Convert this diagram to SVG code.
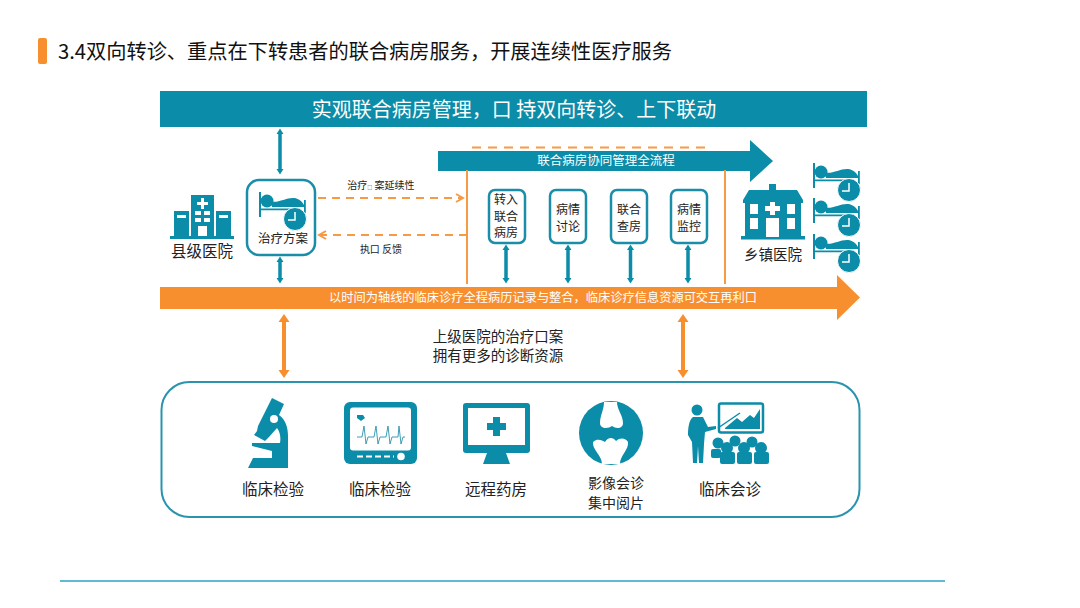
<svg xmlns="http://www.w3.org/2000/svg" width="1080" height="608" viewBox="0 0 1080 608">
<style>
text{font-family:"Noto Sans CJK SC","Noto Sans",sans-serif;fill:#222;text-anchor:middle}
.w{fill:#fff}
.t{fill:#0b8ca8}
.wf{fill:#fff}
.box{fill:#fff;stroke:#1a8ea9;stroke-width:2.5}
.dash{fill:none;stroke:#f79a45;stroke-width:2;stroke-dasharray:8 6}
.ol{fill:none;stroke:#f79a45;stroke-width:2}
.tl{fill:none;stroke:#0b8ca8;stroke-width:3.5}
.orl{fill:none;stroke:#f88f2f;stroke-width:4}
</style>
<defs>
<marker id="ah" markerWidth="6" markerHeight="8" refX="1" refY="4" orient="auto-start-reverse" markerUnits="userSpaceOnUse"><path d="M0,0.500L5.500,4L0,7.500Z" fill="#0b8ca8"/></marker>
<marker id="ao" markerWidth="9" markerHeight="12" refX="1" refY="6" orient="auto-start-reverse" markerUnits="userSpaceOnUse"><path d="M0,0.500L8,6L0,11.500Z" fill="#f88f2f"/></marker>
<marker id="oc" markerWidth="10" markerHeight="10" refX="8" refY="5" orient="auto-start-reverse" markerUnits="userSpaceOnUse"><path d="M1,1L8,5L1,9" fill="none" stroke="#f79a45" stroke-width="2"/></marker>
<g id="bed">
<path class="t" d="M0,0h2v25H0ZM45,8h1.800v13H45ZM0,16.500h31v1.800H0Z"/>
<circle class="t" cx="8" cy="9" r="6.500"/>
<path class="t" d="M12,9.500C20,11 27,5.500 35,6C40,6.500 44,10 46,15L13,15Z"/>
<circle class="t" cx="36" cy="27" r="11.500" stroke="#fff" stroke-width="1"/>
<path d="M36,20V28H29" fill="none" stroke="#fff" stroke-width="1.500"/>
</g>
</defs>
<rect width="1080" height="608" fill="#fff"/>

<g id="title">
<rect x="38" y="38" width="9" height="26" rx="2" fill="#f88f2f"/>
<text x="58" y="59" style="text-anchor:start;font-size:20px;fill:#111" textLength="614" lengthAdjust="spacingAndGlyphs">3.4双向转诊、重点在下转患者的联合病房服务，开展连续性医疗服务</text>
</g>

<g id="banner">
<rect x="160" y="91" width="707" height="36" class="t"/>
<text x="514" y="117" class="w" style="font-size:20px">实观联合病房管理，口 持双向转诊、上下联动</text>
</g>

<g id="flow-arrow">
<path class="t" d="M438,151H750V140L773,161L750,182V171H438Z"/>
<path d="M472,147.500H707" fill="none" stroke="#f79a45" stroke-width="2" stroke-dasharray="9 7"/>
<text x="606" y="165" class="w" style="font-size:12.500px">联合病房协同管理全流程</text>
</g>

<g id="timeline-arrow">
<path d="M160,287H837V275L860,297.500L837,320V309H160Z" fill="#f88f2f"/>
<text x="543" y="302" class="w" style="font-size:12.200px" textLength="428" lengthAdjust="spacingAndGlyphs">以时间为轴线的临床诊疗全程病历记录与整合，临床诊疗信息资源可交互再利口</text>
</g>

<g id="connectors">
<path d="M467,170V284M725,170V284" class="ol"/>
<path d="M280,133V170" class="tl" marker-start="url(#ah)" marker-end="url(#ah)"/>
<path d="M280,261V279" class="tl" marker-start="url(#ah)" marker-end="url(#ah)"/>
<path d="M506,249V279" class="tl" marker-start="url(#ah)" marker-end="url(#ah)"/>
<path d="M568,249V279" class="tl" marker-start="url(#ah)" marker-end="url(#ah)"/>
<path d="M630.500,249V279" class="tl" marker-start="url(#ah)" marker-end="url(#ah)"/>
<path d="M688,249V279" class="tl" marker-start="url(#ah)" marker-end="url(#ah)"/>
<path d="M318,198H463" class="dash" marker-end="url(#oc)"/>
<path d="M467,235H319" class="dash" marker-end="url(#oc)"/>
<path d="M284,321V371" class="orl" marker-start="url(#ao)" marker-end="url(#ao)"/>
<path d="M683,321V371" class="orl" marker-start="url(#ao)" marker-end="url(#ao)"/>
<text x="381" y="189" style="font-size:10px">治疗<tspan style="font-size:5px">□</tspan> 案延续性</text>
<text x="381" y="253" style="font-size:10px">执口 反馈</text>
</g>

<g id="county-hospital">
<path class="t" d="M191,195H214V237H207V226H198V237H191ZM174,211H189V237H174ZM216,211H231V237H216Z"/>
<rect x="170" y="236" width="64" height="3" class="t"/>
<path class="wf" d="M201,198h3v4h4v3h-4v4h-3v-4h-4v-3h4ZM177,215h9v3h-9ZM219,215h9v3h-9ZM195,211h6v4h-6ZM204,211h6v4h-6ZM195,218h6v4h-6ZM204,218h6v4h-6Z"/>
<text x="202" y="257" style="font-size:15.500px">县级医院</text>
</g>

<g id="plan">
<rect x="247" y="180" width="68" height="75" rx="12" class="box"/>
<use href="#bed" x="259" y="192"/>
<text x="283" y="243" style="font-size:12.500px">治疗方案</text>
</g>

<g id="step1"><rect x="489" y="190" width="36" height="53" rx="6" class="box"/><text x="506" y="204" style="font-size:12px">转入</text><text x="506" y="221" style="font-size:12px">联合</text><text x="506" y="237" style="font-size:12px">病房</text></g>
<g id="step2"><rect x="550" y="190" width="36" height="53" rx="6" class="box"/><text x="568" y="214" style="font-size:12px">病情</text><text x="568" y="231" style="font-size:12px">讨论</text></g>
<g id="step3"><rect x="611" y="190" width="36" height="53" rx="6" class="box"/><text x="629" y="214" style="font-size:12px">联合</text><text x="629" y="231" style="font-size:12px">查房</text></g>
<g id="step4"><rect x="671" y="190" width="36" height="53" rx="6" class="box"/><text x="689" y="214" style="font-size:12px">病情</text><text x="689" y="231" style="font-size:12px">监控</text></g>

<g id="township-hospital">
<path class="t" d="M769,184h7v6h21l6,10v3H743v-3l6,-10h20ZM745,203H801V237H745Z"/>
<rect x="741" y="236" width="64" height="3.500" class="t"/>
<path class="wf" d="M750,204h8v10h-8ZM750,218h8v11h-8ZM787,204h8v10h-8ZM787,218h8v11h-8ZM766,218h13v19h-13ZM770,202h5v4h5v5h-5v4h-5v-4h-5v-5h5Z"/>
<text x="773" y="260" style="font-size:14.500px">乡镇医院</text>
</g>

<g id="beds">
<use href="#bed" x="813" y="163"/>
<use href="#bed" x="813" y="198"/>
<use href="#bed" x="813" y="234"/>
</g>

<g id="note">
<text x="498" y="342" style="font-size:14.500px">上级医院的治疗口案</text>
<text x="498" y="361" style="font-size:14.500px">拥有更多的诊断资源</text>
</g>

<g id="resources">
<rect x="161.500" y="382" width="698" height="135" rx="28" fill="none" stroke="#2a93ad" stroke-width="2"/>
</g>

<g id="lab1">
<path class="t" d="M272,398L284,404L279,415C286,420 288,428 288,436V468H248L253,458H272V451L252,446V443H272L280,443C281,437 280,432 277,428L269,437L265,441L254,435L257,431L258,426Z"/>
<circle cx="274" cy="419" r="4" fill="#fff"/>
<text x="273" y="495" style="font-size:15.500px">临床检验</text>
</g>

<g id="lab2">
<rect x="344" y="402" width="73" height="62" rx="6" class="t"/>
<rect x="350" y="407.500" width="61" height="43" rx="3" fill="#fff"/>
<path d="M357,437H362L364,426L366,444L368,437H374L376,426L378,444L380,437H386L388,426L390,444L392,437H398L399,426L401,444L403,437H405" fill="none" stroke="#2a93ad" stroke-width="0.900"/>
<path class="t" d="M357,415h6l2,3l-4,3l-4,-3Z"/>
<path d="M357,456.500H394" stroke="#fff" stroke-width="2" stroke-dasharray="6 3" fill="none"/>
<circle cx="401" cy="456.500" r="3.800" fill="#fff"/>
<text x="380" y="495" style="font-size:15.500px">临床检验</text>
</g>

<g id="pharmacy">
<path class="t" d="M466,403H527a3,3 0 0 1 3,3V450a3,3 0 0 1 -3,3H506L510,464H483L487,453H466a3,3 0 0 1 -3,-3V406a3,3 0 0 1 3,-3Z"/>
<rect x="468" y="408" width="57" height="37" fill="#fff"/>
<path class="t" d="M493,417h7v6h6v7h-6v6h-7v-6h-6v-7h6Z"/>
<text x="496" y="495" style="font-size:15.500px">远程药房</text>
</g>

<g id="imaging">
<circle cx="611" cy="433" r="32" class="t"/>
<path class="wf" d="M604,402H617C617,410 623,415 623,423C623,429 616,429 612,426C608,429 600,429 600,423C600,415 604,410 604,402Z"/>
<path class="wf" d="M593,442C597,438 602,440 605,442C608,437 613,437 616,441C620,437 626,438 628,442C629,450 620,455 620,464H602C602,455 592,450 593,442Z"/>
<text x="616" y="488" style="font-size:14px">影像会诊</text>
<text x="616" y="508" style="font-size:14px">集中阅片</text>
</g>

<g id="consult">
<rect x="719" y="403.500" width="44" height="29" rx="2" fill="#fff" stroke="#0b8ca8" stroke-width="2.500"/>
<path class="t" d="M725,428L737,418L742,422L750,415L754,418L760,409V429H725Z"/>
<path d="M718,428L740,413" stroke="#0b8ca8" stroke-width="1.500"/>
<circle cx="697" cy="410" r="5.500" class="t"/>
<path class="t" d="M693,417H703L708,427L716,426V429L705,432L704,444L703,463H699L698,446L697,463H693L692,442L688,435C688,425 690,419 693,417Z"/>
<g class="t">
<circle cx="718" cy="443" r="5.500"/><circle cx="735" cy="441" r="5.500"/><circle cx="752" cy="442" r="5.500"/>
<circle cx="727" cy="448" r="6"/><circle cx="744" cy="448" r="6"/><circle cx="761" cy="448" r="6"/>
<rect x="711" y="449" width="10" height="9" rx="2"/>
<rect x="720" y="452" width="15" height="12" rx="2"/>
<rect x="737" y="452" width="15" height="12" rx="2"/>
<rect x="754" y="452" width="15" height="12" rx="2"/>
</g>
<text x="730" y="495" style="font-size:15.500px">临床会诊</text>
</g>

<path d="M60,581H945" stroke="#2fa3c0" stroke-width="1.500"/>
</svg>
